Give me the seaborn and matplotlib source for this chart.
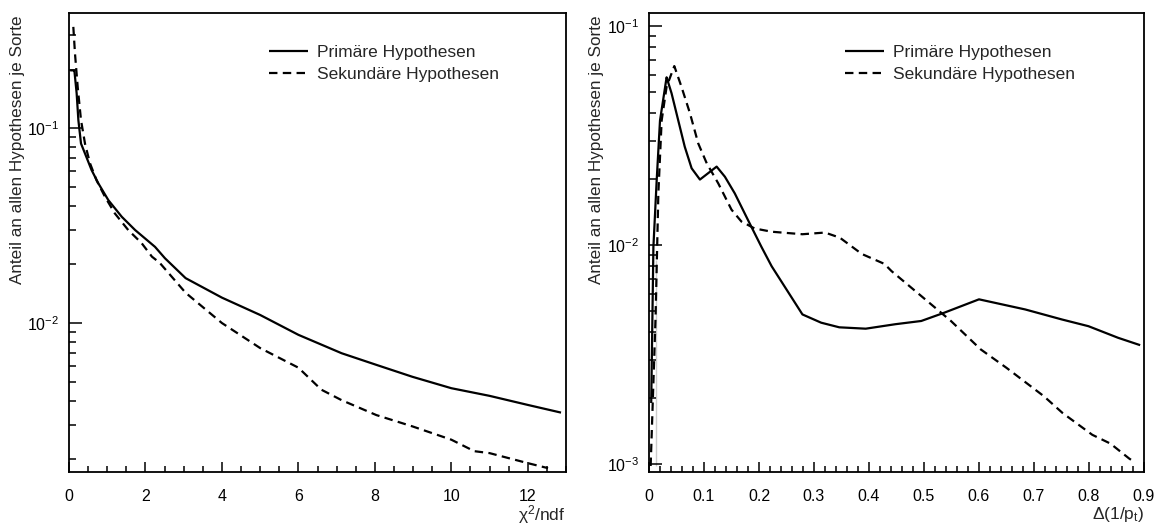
import numpy as np
import pandas as pd
import matplotlib
matplotlib.use("Agg")
import matplotlib.pyplot as plt
import matplotlib.ticker as mticker
import seaborn as sns

# ---- data ----
chi_prim_x = [0.03, 0.14, 0.20, 0.245, 0.314, 0.42, 0.59, 0.77, 1.03, 1.38, 1.73, 2.25, 2.51, 3.05,
              4.0, 5.0, 6.0, 7.13, 8.04, 8.98, 10.0, 11.0, 12.0, 12.87]
chi_prim_y = [0.198, 0.198, 0.151, 0.110, 0.0834, 0.074, 0.061, 0.052, 0.0427, 0.0351, 0.030, 0.0246, 0.0215, 0.017,
              0.0135, 0.011, 0.0087, 0.0070, 0.0061, 0.0053, 0.00463, 0.00423, 0.0038, 0.00347]
chi_sek_x = [0.113, 0.157, 0.227, 0.314, 0.42, 0.55, 0.72, 0.94, 1.2, 1.55, 1.9, 2.17, 2.37, 3.05,
             4.0, 5.0, 6.0, 6.6, 7.13, 8.04, 8.98, 10.0, 10.6, 11.0, 12.0, 12.53]
chi_sek_y = [0.331, 0.241, 0.163, 0.110, 0.083, 0.066, 0.054, 0.0445, 0.0365, 0.030, 0.0257, 0.0219, 0.0204, 0.0143,
             0.0100, 0.00744, 0.0059, 0.00455, 0.00402, 0.00337, 0.00295, 0.00252, 0.0022, 0.00215, 0.00191, 0.0018]

pt_prim_x = [0.004, 0.008, 0.014, 0.020, 0.032, 0.041, 0.053, 0.065, 0.0775, 0.0926, 0.123, 0.138, 0.156, 0.180,
             0.2045, 0.223, 0.279, 0.313, 0.346, 0.394, 0.448, 0.495, 0.536, 0.60, 0.684, 0.751, 0.799, 0.853, 0.893]
pt_prim_y = [0.0019, 0.0098, 0.0198, 0.037, 0.0583, 0.0493, 0.0372, 0.0281, 0.0224, 0.0199, 0.0228, 0.0205, 0.0172, 0.013,
             0.0098, 0.0080, 0.00482, 0.00442, 0.00421, 0.00415, 0.00435, 0.0045, 0.0049, 0.00565, 0.00508, 0.00457, 0.00426, 0.00377, 0.00349]
pt_sek_x = [0.003, 0.012, 0.012, 0.017, 0.023, 0.032, 0.046, 0.059, 0.0744, 0.0895, 0.105, 0.126, 0.150, 0.168, 0.192,
            0.223, 0.279, 0.32, 0.347, 0.387, 0.428, 0.441, 0.495, 0.549, 0.603, 0.650, 0.718, 0.752, 0.806, 0.839, 0.873, 0.883]
pt_sek_y = [0.00098, 0.00098, 0.0085, 0.0172, 0.037, 0.0528, 0.0656, 0.0528, 0.040, 0.0291, 0.0236, 0.0191, 0.0145, 0.0128, 0.0119,
            0.0115, 0.0112, 0.0114, 0.0108, 0.0091, 0.0082, 0.0076, 0.00585, 0.0045, 0.00334, 0.00275, 0.00204, 0.00171, 0.00136, 0.00124, 0.00106, 0.00102]

labels = ["Primäre Hypothesen", "Sekundäre Hypothesen"]
ylabel = "Anteil an allen Hypothesen je Sorte"

sns.set_style("ticks")
plt.rcParams["font.family"] = ["Liberation Sans", "DejaVu Sans"]
plt.rcParams["mathtext.fontset"] = "custom"
plt.rcParams["mathtext.rm"] = "Liberation Sans"
plt.rcParams["mathtext.it"] = "Liberation Sans"
plt.rcParams["mathtext.default"] = "rm"

def make_df(px, py, sx, sy):
    return pd.concat([
        pd.DataFrame({"x": px, "y": py, "Sorte": labels[0]}),
        pd.DataFrame({"x": sx, "y": sy, "Sorte": labels[1]}),
    ], ignore_index=True)

W, H = 1163, 526
fig = plt.figure(figsize=(W / 100, H / 100), dpi=100)
ax1 = fig.add_axes([69 / W, (H - 472) / H, 497 / W, 459 / H])
ax2 = fig.add_axes([649 / W, (H - 472) / H, 495 / W, 459 / H])

for ax, df, legx in [(ax1, make_df(chi_prim_x, chi_prim_y, chi_sek_x, chi_sek_y), 269 / W),
                     (ax2, make_df(pt_prim_x, pt_prim_y, pt_sek_x, pt_sek_y), 845 / W)]:
    sns.lineplot(data=df, x="x", y="y", hue="Sorte", style="Sorte",
                 palette=["black", "black"], dashes=[(1, 0), (3.8, 2.4)],
                 linewidth=1.6, ax=ax, sort=False, legend=True)
    ax.set_yscale("log")
    for s in ax.spines.values():
        s.set_linewidth(1.3)
        s.set_color("black")
    ax.tick_params(which="both", direction="in", top=False, right=False,
                   labelsize=11.5, colors="black", width=1.1)
    ax.tick_params(axis="x", which="both", pad=12)
    ax.tick_params(axis="y", which="both", pad=7)
    ax.tick_params(axis="y", which="major", length=9)
    ax.tick_params(axis="y", which="minor", length=5)
    ax.tick_params(axis="x", which="major", length=7)
    ax.tick_params(axis="x", which="minor", length=4)
    ax.yaxis.set_major_locator(mticker.LogLocator(base=10))
    ax.yaxis.set_minor_locator(mticker.LogLocator(base=10, subs=np.arange(2, 10)))
    ax.yaxis.set_minor_formatter(mticker.NullFormatter())
    ax.yaxis.set_major_formatter(mticker.FuncFormatter(
        lambda v, p: r"$10^{%d}$" % int(round(np.log10(v)))))
    ax.set_ylabel(ylabel, fontsize=12.3, loc="top")
    leg = ax.legend(loc="center left", bbox_to_anchor=(legx, 1 - 63.5 / H),
                    bbox_transform=fig.transFigure, frameon=False,
                    fontsize=12.5, handlelength=2.25, handletextpad=0.5,
                    labelspacing=0.42, borderaxespad=0, borderpad=0)
    for h in leg.get_lines():
        h.set_linewidth(1.6)

ax1.set_xlim(0, 13)
ax1.set_ylim(0.00172, 0.39)
ax1.xaxis.set_major_locator(mticker.MultipleLocator(2))
ax1.xaxis.set_minor_locator(mticker.MultipleLocator(0.5))
ax1.set_xlabel("χ$^{2}$/ndf", fontsize=12.5)
ax1.xaxis.set_label_coords(1.0, -0.093)
ax1.xaxis.label.set_ha("right")
ax1.xaxis.label.set_va("center")
ax1.yaxis.set_label_coords(-0.0895, 0.995)

ax2.set_xlim(0, 0.9)
ax2.set_ylim(0.00092, 0.1146)
ax2.xaxis.set_major_locator(mticker.MultipleLocator(0.1))
ax2.xaxis.set_minor_locator(mticker.MultipleLocator(0.02))
ax2.xaxis.set_major_formatter(mticker.FuncFormatter(
    lambda v, p: "0" if abs(v) < 1e-9 else ("%.1f" % v)))
ax2.set_xlabel("Δ(1/p$_{t}$)", fontsize=12.5)
ax2.xaxis.set_label_coords(1.0, -0.093)
ax2.xaxis.label.set_ha("right")
ax2.xaxis.label.set_va("center")
ax2.yaxis.set_label_coords(-0.0905, 0.995)

fig.savefig("out.png", dpi=100)
